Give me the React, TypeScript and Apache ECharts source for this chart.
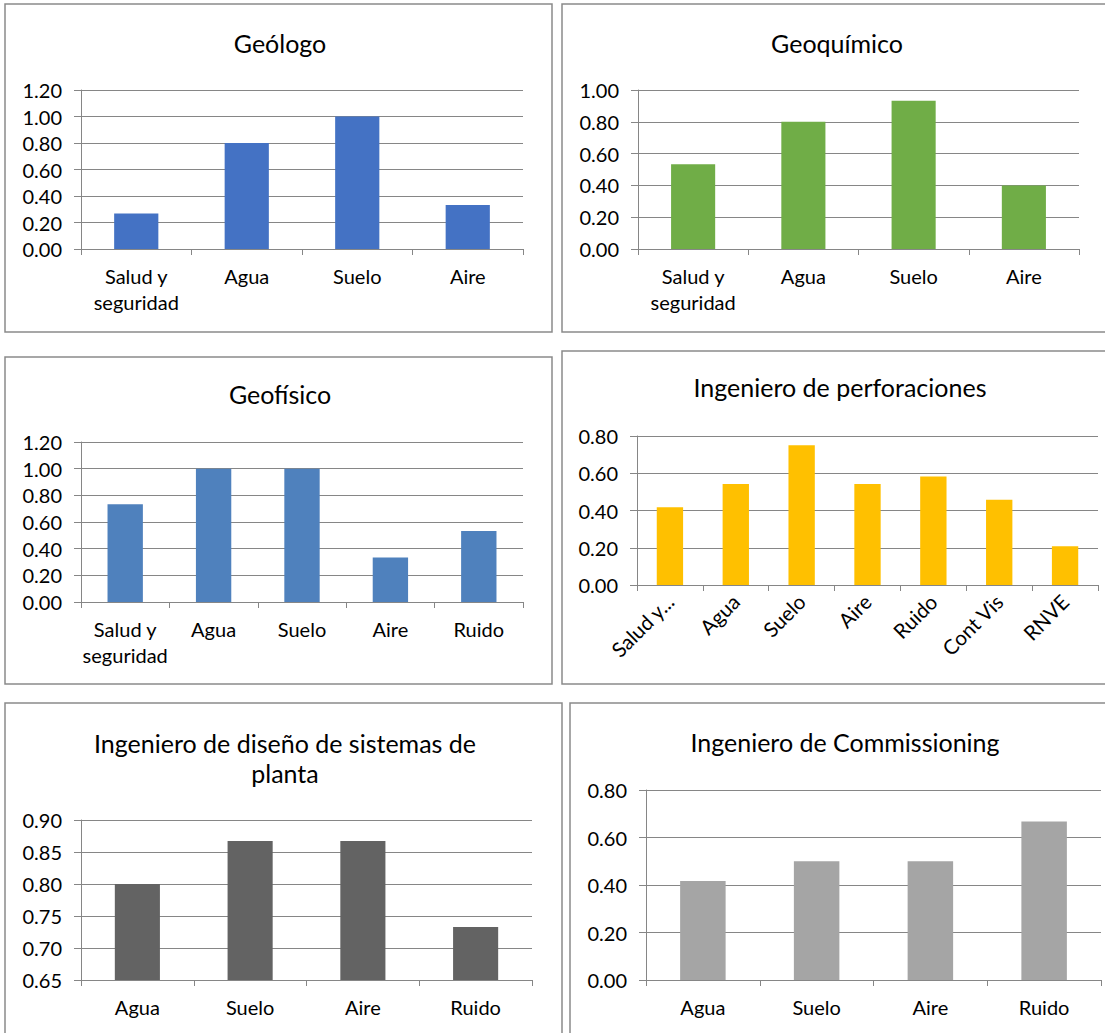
import React, { useEffect, useRef } from "react";
import * as echarts from "echarts";

const FONT = "Lato, 'Open Sans', sans-serif";

// ---- Data ----
const geologoCats = ["Salud y\nseguridad", "Agua", "Suelo", "Aire"];
const geologoVals = [0.267, 0.8, 1.0, 0.333];

const geoquimicoCats = ["Salud y\nseguridad", "Agua", "Suelo", "Aire"];
const geoquimicoVals = [0.533, 0.8, 0.933, 0.4];

const geofisicoCats = ["Salud y\nseguridad", "Agua", "Suelo", "Aire", "Ruido"];
const geofisicoVals = [0.733, 1.0, 1.0, 0.333, 0.533];

const perforacionesCats = ["Salud y...", "Agua", "Suelo", "Aire", "Ruido", "Cont Vis", "RNVE"];
const perforacionesVals = [0.417, 0.542, 0.75, 0.542, 0.583, 0.458, 0.208];

const disenoCats = ["Agua", "Suelo", "Aire", "Ruido"];
const disenoVals = [0.8, 0.867, 0.867, 0.733];

const commissioningCats = ["Agua", "Suelo", "Aire", "Ruido"];
const commissioningVals = [0.417, 0.5, 0.5, 0.667];

const titles = [
  "Geólogo",
  "Geoquímico",
  "Geofísico",
  "Ingeniero de perforaciones",
  "Ingeniero de diseño de sistemas de\nplanta",
  "Ingeniero de Commissioning",
];

// ---- Layout ----
type Panel = {
  border: [number, number, number, number];
  grid: [number, number, number, number]; // left, top, right, bottom
  title: [number, number];
  cats: string[];
  vals: number[];
  color: string;
  min: number;
  max: number;
  interval: number;
  rotate?: number;
};

const panels: Panel[] = [
  { border: [5, 4, 552, 332], grid: [81, 90, 523, 249], title: [280, 43], cats: geologoCats, vals: geologoVals, color: "#4472C4", min: 0, max: 1.2, interval: 0.2 },
  { border: [562, 4, 1108, 332], grid: [638, 90, 1079, 249], title: [837, 43], cats: geoquimicoCats, vals: geoquimicoVals, color: "#70AD47", min: 0, max: 1.0, interval: 0.2 },
  { border: [5, 357, 552, 684], grid: [81, 442, 523, 602], title: [280, 394], cats: geofisicoCats, vals: geofisicoVals, color: "#4F81BD", min: 0, max: 1.2, interval: 0.2 },
  { border: [562, 351, 1108, 684], grid: [637, 436, 1098, 585], title: [840, 387], cats: perforacionesCats, vals: perforacionesVals, color: "#FFC000", min: 0, max: 0.8, interval: 0.2, rotate: 45 },
  { border: [5, 703, 562, 1040], grid: [81, 820, 532, 980], title: [285, 758], cats: disenoCats, vals: disenoVals, color: "#636363", min: 0.65, max: 0.9, interval: 0.05 },
  { border: [570, 703, 1108, 1040], grid: [646, 790, 1101, 980], title: [845, 742], cats: commissioningCats, vals: commissioningVals, color: "#A5A5A5", min: 0, max: 0.8, interval: 0.2 },
];

const LINE = "#868686";

export default function App() {
  const ref = useRef<HTMLDivElement>(null);

  useEffect(() => {
    if (!ref.current) return;
    const chart = echarts.init(ref.current, undefined, { renderer: "svg" });

    const grid = panels.map((p) => ({
      left: p.grid[0],
      top: p.grid[1],
      width: p.grid[2] - p.grid[0],
      height: p.grid[3] - p.grid[1],
      containLabel: false,
    }));

    const xAxis = panels.map((p, i) => ({
      type: "category",
      gridIndex: i,
      data: p.cats,
      axisLine: { show: true, lineStyle: { color: LINE, width: 1 } },
      axisTick: { show: true, length: 6, lineStyle: { color: LINE } },
      axisLabel: p.rotate
        ? { rotate: p.rotate, margin: 13, color: "#000", fontFamily: FONT, fontSize: 20.5, interval: 0 }
        : { margin: 14, color: "#000", fontFamily: FONT, fontSize: 20, lineHeight: 26, interval: 0 },
      splitLine: { show: false },
    }));

    const yAxis = panels.map((p, i) => ({
      type: "value",
      gridIndex: i,
      min: p.min,
      max: p.max,
      interval: p.interval,
      axisLine: { show: true, lineStyle: { color: LINE, width: 1 } },
      axisTick: { show: true, length: 7, lineStyle: { color: LINE } },
      axisLabel: {
        margin: 19,
        color: "#000",
        fontFamily: FONT,
        fontSize: 20,
        formatter: (v: number) => v.toFixed(2),
      },
      splitLine: { show: true, lineStyle: { color: LINE, width: 1 } },
    }));

    const series = panels.map((p, i) => ({
      type: "bar",
      xAxisIndex: i,
      yAxisIndex: i,
      data: p.vals,
      barWidth: "40%",
      itemStyle: { color: p.color },
      silent: true,
    }));

    const graphic: any[] = [];
    panels.forEach((p, i) => {
      graphic.push({
        type: "rect",
        shape: { x: p.border[0], y: p.border[1], width: p.border[2] - p.border[0], height: p.border[3] - p.border[1] },
        style: { fill: "none", stroke: "#8a8a8a", lineWidth: 1.5 },
        silent: true,
      });
      graphic.push({
        type: "text",
        x: p.title[0],
        y: p.title[1],
        style: {
          text: titles[i],
          fill: "#000",
          font: `25px ${FONT}`,
          fontFamily: FONT,
          fontSize: 25,
          align: "center",
          verticalAlign: "middle",
          lineHeight: 30,
        },
        silent: true,
      });
    });

    chart.setOption({
      animation: false,
      backgroundColor: "#fff",
      grid,
      xAxis,
      yAxis,
      series,
      graphic,
    });

    return () => chart.dispose();
  }, []);

  return (
    <div style={{ position: "absolute", left: 0, top: 0, width: 1105, height: 1033, background: "#fff" }}>
      <div ref={ref} style={{ width: 1105, height: 1033 }} />
    </div>
  );
}
